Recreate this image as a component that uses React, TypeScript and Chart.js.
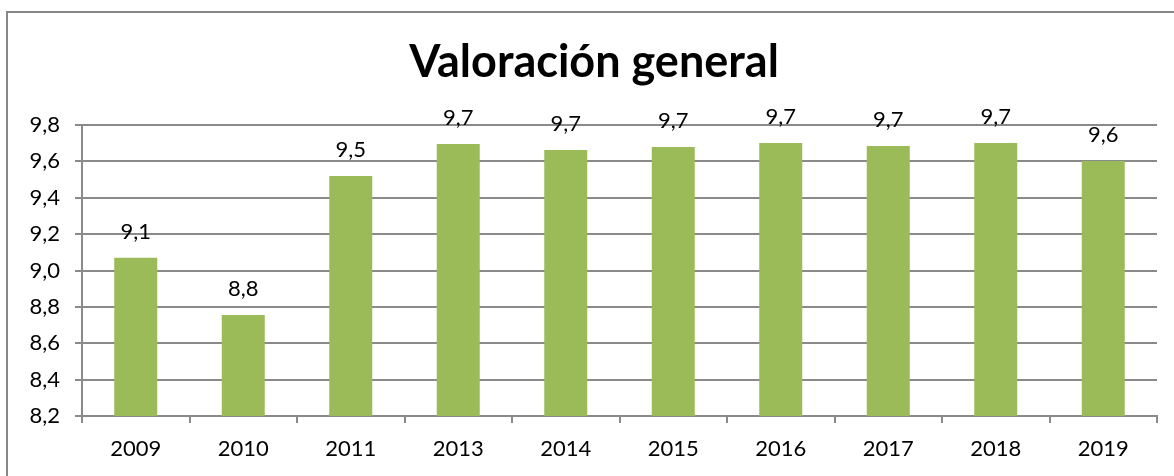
import React, { useEffect, useRef } from "react";
import { Chart, registerables } from "chart.js";

Chart.register(...registerables);

const TITLE = "Valoración general";
const categories = ["2009", "2010", "2011", "2013", "2014", "2015", "2016", "2017", "2018", "2019"];
const values = [9.07, 8.755, 9.52, 9.696, 9.663, 9.679, 9.701, 9.685, 9.701, 9.602];
const yMin = 8.2;
const yMax = 9.8;
const yStep = 0.2;

const FONT = "Lato, 'Open Sans', sans-serif";
const fmt = (v: number, d: number) => v.toFixed(d).replace(".", ",");

const dataLabels = {
  id: "dataLabels",
  afterDatasetsDraw(chart: any) {
    const ctx = chart.ctx;
    const meta = chart.getDatasetMeta(0);
    ctx.save();
    ctx.font = `22px ${FONT}`;
    ctx.fillStyle = "#000";
    ctx.textAlign = "center";
    ctx.textBaseline = "alphabetic";
    meta.data.forEach((bar: any, i: number) => {
      ctx.fillText(fmt(values[i], 1), bar.x, bar.y - 19);
    });
    ctx.restore();
  },
};

const titlePlugin = {
  id: "centeredTitle",
  afterDraw(chart: any) {
    const ctx = chart.ctx;
    ctx.save();
    ctx.font = `bold 45px ${FONT}`;
    ctx.fillStyle = "#000";
    ctx.textAlign = "center";
    ctx.textBaseline = "alphabetic";
    ctx.fillText(TITLE, 594, 77);
    ctx.restore();
  },
};

export default function App() {
  const ref = useRef<HTMLCanvasElement | null>(null);
  useEffect(() => {
    document.body.style.overflow = "hidden";
    const chart = new Chart(ref.current as HTMLCanvasElement, {
      type: "bar",
      data: {
        labels: categories,
        datasets: [
          {
            data: values,
            backgroundColor: "#9BBB59",
            barPercentage: 0.4,
            categoryPercentage: 1,
          },
        ],
      },
      options: {
        responsive: false,
        animation: false,
        layout: { padding: { left: 0, right: 29, top: 125, bottom: 0 } },
        plugins: {
          legend: { display: false },
          tooltip: { enabled: false },
          title: { display: false },
        },
        scales: {
          x: {
            grid: {
              display: true,
              drawOnChartArea: false,
              drawTicks: true,
              tickLength: 7,
              color: "#8a8a8a",
              lineWidth: 2,
            },
            border: { display: true, color: "#8a8a8a", width: 2 },
            ticks: { color: "#000", font: { family: FONT, size: 22 }, padding: 13 },
            afterFit: (s: any) => {
              s.height = 60;
            },
          },
          y: {
            min: yMin,
            max: yMax,
            grid: {
              color: "#8a8a8a",
              lineWidth: 2,
              drawTicks: true,
              tickLength: 7,
            },
            border: { display: true, color: "#8a8a8a", width: 2 },
            ticks: {
              stepSize: yStep,
              color: "#000",
              font: { family: FONT, size: 22 },
              padding: 15,
              callback: (v: any) => fmt(Number(v), 1),
            },
            afterFit: (s: any) => {
              s.width = 82;
            },
          },
        },
      },
      plugins: [dataLabels, titlePlugin],
    });
    return () => chart.destroy();
  }, []);
  return (
    <div>
      <div
        style={{
          position: "fixed",
          left: 6,
          top: 11,
          width: 1220,
          height: 520,
          border: "2px solid #878787",
          boxSizing: "border-box",
        }}
      />
      <canvas
        ref={ref}
        width={1186}
        height={476}
        style={{ position: "fixed", left: 0, top: 0, width: 1186, height: 476 }}
      />
    </div>
  );
}
